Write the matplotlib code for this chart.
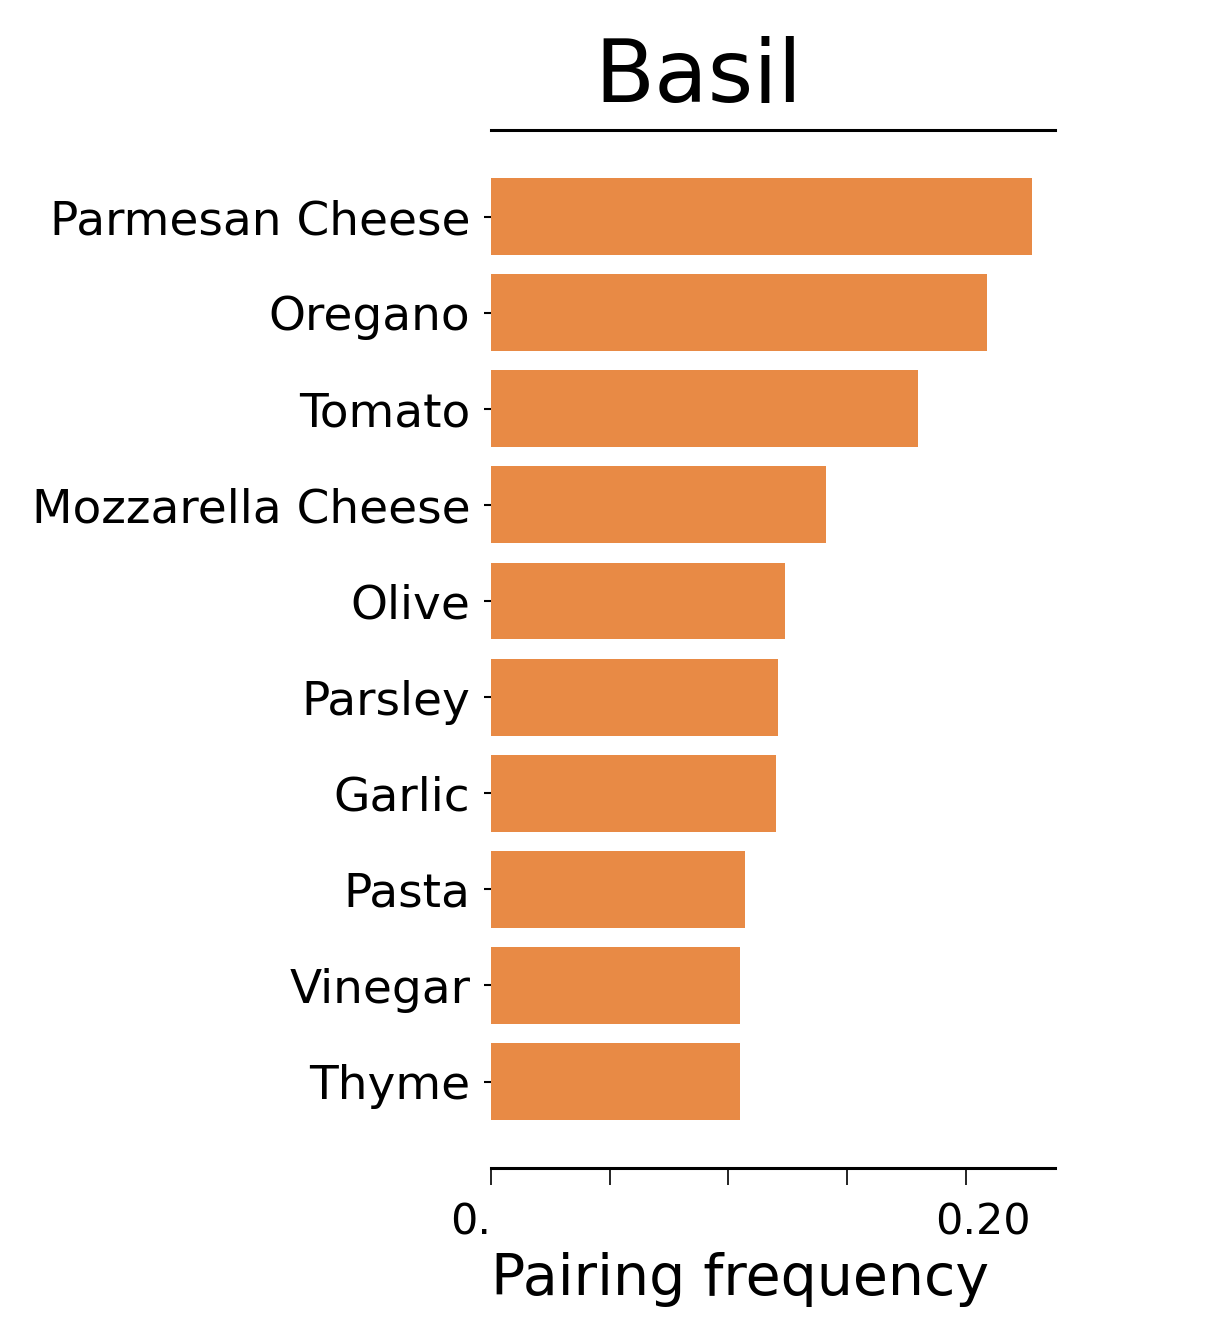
import numpy as np
import matplotlib.pyplot as plt
from matplotlib.transforms import ScaledTranslation

ingredients = ["Parmesan Cheese", "Oregano", "Tomato", "Mozzarella Cheese", "Olive",
               "Parsley", "Garlic", "Pasta", "Vinegar", "Thyme"]
freq = [0.228, 0.209, 0.180, 0.141, 0.124, 0.121, 0.120, 0.107, 0.105, 0.105]
xticks = [0.0, 0.05, 0.10, 0.15, 0.20]
xticklabels = ["0.", "", "", "", "0.20"]

fig = plt.figure(figsize=(12.1, 13.34), dpi=100)
ax = fig.add_axes([0.4058, 0.1244, 0.4661, 0.7781])

y = np.arange(len(ingredients))
ax.barh(y, freq, height=0.8, color="#E88A45")

ax.set_ylim(len(ingredients) - 0.1, -0.9)
ax.set_xlim(0, 0.2375)
ax.set_yticks(y)
ax.set_yticklabels(ingredients, fontsize=33.8)
ax.set_xticks(xticks)
ax.set_xticklabels(xticklabels, fontsize=31)
ax.tick_params(axis="y", length=5, width=1.5, pad=10)
ax.tick_params(axis="x", length=12, width=1.2, pad=12)

# nudge the two x labels like in the original
labels = ax.get_xticklabels()
labels[0].set_transform(labels[0].get_transform() + ScaledTranslation(-0.2, 0, fig.dpi_scale_trans))
labels[4].set_transform(labels[4].get_transform() + ScaledTranslation(0.17, 0, fig.dpi_scale_trans))

for side in ["left", "right"]:
    ax.spines[side].set_visible(False)
for side in ["top", "bottom"]:
    ax.spines[side].set_linewidth(2.2)

ax.set_title("Basil", fontsize=63, pad=20, x=0.367)
ax.set_xlabel("Pairing frequency", fontsize=41, labelpad=6, loc="left")

fig.savefig("out.png")
